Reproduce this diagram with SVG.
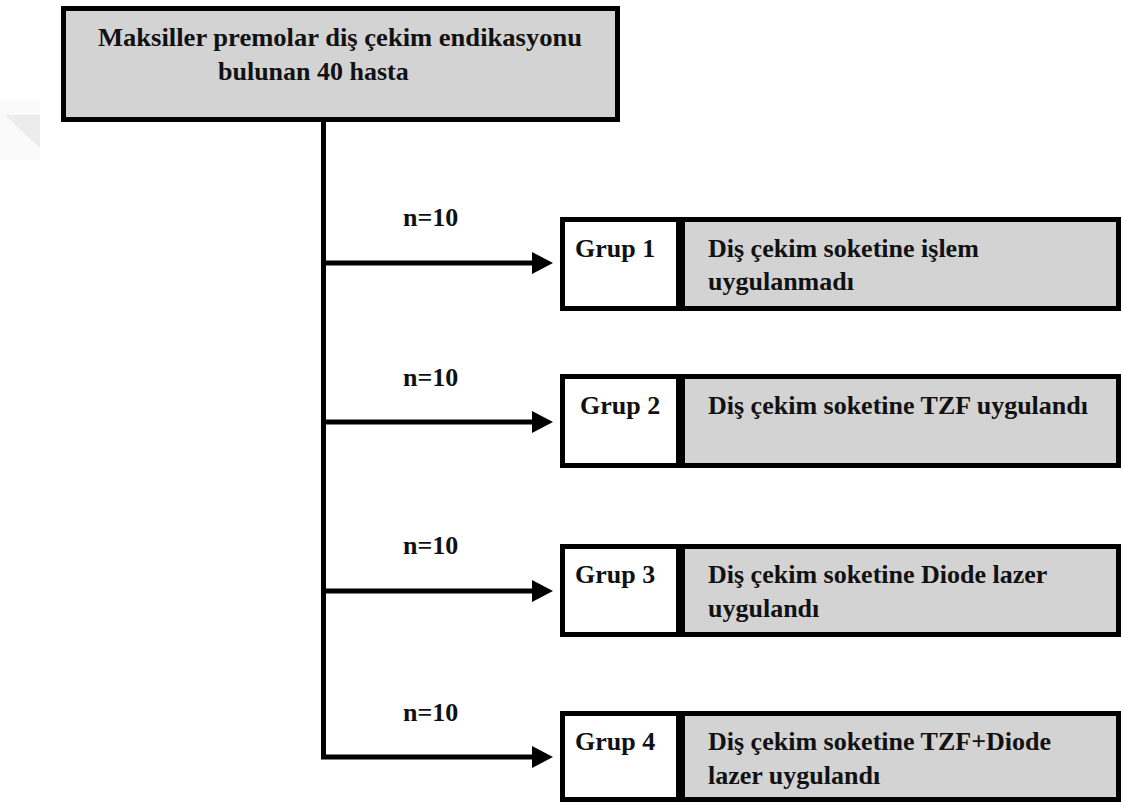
<svg xmlns="http://www.w3.org/2000/svg" width="1122" height="802" viewBox="0 0 1122 802">
<style>
.t{font-family:"Liberation Serif","Times New Roman",serif;font-weight:bold;font-size:26px;fill:#111}
.box{fill:#d3d3d3;stroke:#000;stroke-width:5}
.cell{fill:#fff}
.div{fill:#000}
.ln{fill:none;stroke:#000;stroke-width:5}
</style>
<defs>
<marker id="ah" markerUnits="userSpaceOnUse" markerWidth="22" markerHeight="22" viewBox="0 0 22 22" refX="1" refY="11" orient="auto">
<path d="M0,0 L21,11 L0,22 z" fill="#000"/>
</marker>
</defs>
<rect width="1122" height="802" fill="#fff"/>
<rect x="0" y="100" width="40" height="60" fill="#fafafa"/>
<polygon points="5,115 40,115 40,148" fill="#ececec"/>
<g id="root">
<rect class="box" x="63.5" y="8.5" width="554" height="111"/>
<text class="t" x="98" y="46" textLength="484" lengthAdjust="spacingAndGlyphs">Maksiller premolar diş çekim endikasyonu</text>
<text class="t" x="218" y="80">bulunan 40 hasta</text>
</g>
<g id="connectors">
<path class="ln" d="M323.5,122 V757 H533" marker-end="url(#ah)"/>
<line class="ln" x1="323.5" y1="263" x2="533" y2="263" marker-end="url(#ah)"/>
<line class="ln" x1="323.5" y1="422" x2="533" y2="422" marker-end="url(#ah)"/>
<line class="ln" x1="323.5" y1="591" x2="533" y2="591" marker-end="url(#ah)"/>
<text class="t" x="403" y="226">n=10</text>
<text class="t" x="403" y="386">n=10</text>
<text class="t" x="403" y="554">n=10</text>
<text class="t" x="403" y="721">n=10</text>
</g>
<g id="g1">
<rect class="box" x="562.5" y="219.5" width="556" height="89"/>
<rect class="cell" x="565" y="222" width="111" height="84"/>
<rect class="div" x="676" y="222" width="9" height="84"/>
<text class="t" x="575" y="257">Grup 1</text>
<text class="t" x="708" y="257">Diş çekim soketine işlem</text>
<text class="t" x="708" y="290">uygulanmadı</text>
</g>
<g id="g2">
<rect class="box" x="562.5" y="376.5" width="556" height="89"/>
<rect class="cell" x="565" y="379" width="111" height="84"/>
<rect class="div" x="676" y="379" width="9" height="84"/>
<text class="t" x="580" y="414">Grup 2</text>
<text class="t" x="708" y="414">Diş çekim soketine TZF uygulandı</text>
</g>
<g id="g3">
<rect class="box" x="562.5" y="546.5" width="556" height="88"/>
<rect class="cell" x="565" y="549" width="111" height="83"/>
<rect class="div" x="676" y="549" width="9" height="83"/>
<text class="t" x="575" y="583">Grup 3</text>
<text class="t" x="708" y="583">Diş çekim soketine Diode lazer</text>
<text class="t" x="708" y="617">uygulandı</text>
</g>
<g id="g4">
<rect class="box" x="562.5" y="713.5" width="556" height="86"/>
<rect class="cell" x="565" y="716" width="111" height="81"/>
<rect class="div" x="676" y="716" width="9" height="81"/>
<text class="t" x="575" y="750">Grup 4</text>
<text class="t" x="708" y="750">Diş çekim soketine TZF+Diode</text>
<text class="t" x="708" y="784">lazer uygulandı</text>
</g>
</svg>
